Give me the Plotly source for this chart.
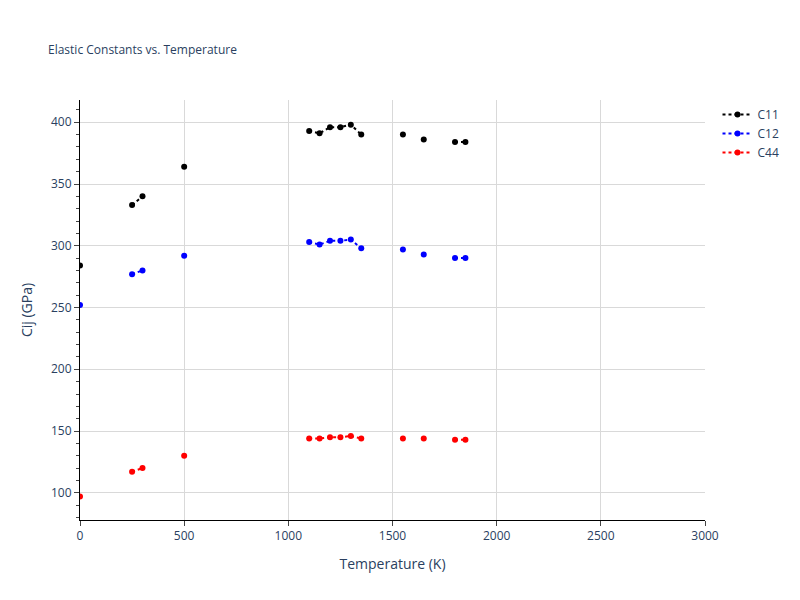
import plotly.graph_objects as go

temperature = [0, None, 250, 300, None, 500, None, 1100, 1150, 1200, 1250, 1300, 1350, None, 1550, None, 1650, None, 1800, 1850]
c11 = [284, None, 333, 340, None, 364, None, 393, 391, 396, 396, 398, 390, None, 390, None, 386, None, 384, 384]
c12 = [252, None, 277, 280, None, 292, None, 303, 301, 304, 304, 305, 298, None, 297, None, 293, None, 290, 290]
c44 = [97, None, 117, 120, None, 130, None, 144, 144, 145, 145, 146, 144, None, 144, None, 144, None, 143, 143]

fig = go.Figure()
for name, ys, col in [("C11", c11, "black"), ("C12", c12, "blue"), ("C44", c44, "red")]:
    fig.add_trace(go.Scatter(x=temperature, y=ys, name=name, mode="lines+markers",
                             line=dict(color=col, dash="dot"), marker=dict(color=col, size=6),
                             connectgaps=False))

ax = dict(showline=True, linecolor="black", ticks="outside", gridcolor="#d9d9d9", zeroline=False)
fig.update_layout(
    width=800, height=600, template="plotly_white",
    title=dict(text="Elastic Constants vs. Temperature", font=dict(size=12), x=0.05),
    xaxis=dict(title="Temperature (K)", range=[0, 3000], dtick=500, **ax),
    yaxis=dict(title="Cij (GPa)", range=[78, 418], dtick=50, minor=dict(ticks="outside", dtick=10), **ax),
    margin=dict(l=72, r=103, t=92, b=88),
)
fig.write_html("out.html")
